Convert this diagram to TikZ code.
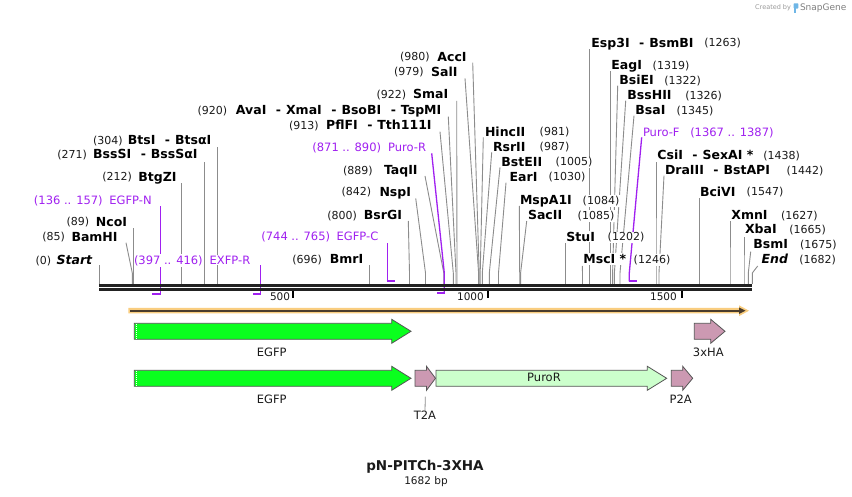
\documentclass[tikz,border=0pt]{standalone}
\usepackage{fontspec}
\setmainfont{DejaVu Sans}
\definecolor{seqc}{HTML}{222222}
\definecolor{sitec}{HTML}{8C8C8C}
\definecolor{primc}{HTML}{A020F0}
\definecolor{gfpc}{HTML}{0AFF1E}
\definecolor{pinkc}{HTML}{CC99B2}
\definecolor{puroc}{HTML}{CCFFCC}
\definecolor{outlc}{HTML}{555555}
\definecolor{orngc}{HTML}{F9CD7F}
\definecolor{brwnc}{HTML}{4A3C2C}
\definecolor{txtc}{HTML}{1A1A1A}
\definecolor{logoc}{HTML}{6FB6E6}
\newcommand\fnumf{\fontsize{11}{13}\selectfont}
\newcommand\fnamef{\fontsize{12.5}{14}\selectfont\bfseries}
\newcommand\fprimf{\fontsize{11.5}{13}\selectfont}
\newcommand\ffeatf{\fontsize{11.5}{13}\selectfont}
\newcommand\dsh{\hspace{9.5pt}-\hspace{5pt}}
\newcommand\LL[6]{%
  \node[numlab,anchor=base west] (#1n) at (#4,#6+4.2) {#2};
  \node[namelab,anchor=base east] (#1) at (#5,#6+4.4) {#3};}
\newcommand\RL[6]{%
  \node[namelab,anchor=base west] (#1) at (#4,#6+4.4) {#2};
  \node[numlab,anchor=base east] (#1n) at (#5,#6+4.2) {#3};}
\newcommand\PL[6]{%
  \node[primlab,anchor=base west] (#1n) at (#4,#6+4.2) {#2};
  \node[primlab,anchor=base east] (#1) at (#5,#6+4.2) {#3};}
\newcommand\PR[6]{%
  \node[primlab,anchor=base west] (#1) at (#4,#6+4.2) {#2};
  \node[primlab,anchor=base east] (#1n) at (#5,#6+4.2) {#3};}
\newcommand\site[3]{\draw[siteline] (#1,284) -- (#1,273) -- (#2,#3);}
\newcommand\featarrow[5]{\draw[featbox,fill=#5] (#1,#4-8) -- (#2,#4-8) -- (#2,#4-12) -- (#3,#4) -- (#2,#4+12) -- (#2,#4+8) -- (#1,#4+8) -- cycle;}
\begin{document}
\begin{tikzpicture}[x=1pt,y=-1pt,
  siteline/.style={draw=sitec,line width=0.9pt},
  primline/.style={draw=primc,line width=1.3pt},
  primbar/.style={draw=primc,line width=1.8pt},
  numlab/.style={font=\fnumf,text=txtc,fill=white,inner xsep=0.5pt,inner ysep=1pt},
  namelab/.style={font=\fnamef,text=black,fill=white,inner xsep=0.5pt,inner ysep=1pt},
  primlab/.style={font=\fprimf,text=primc,fill=white,inner xsep=0.5pt,inner ysep=1pt},
  featbox/.style={draw=outlc,line width=0.8pt,line join=miter},
  featlab/.style={font=\ffeatf,text=txtc,inner sep=0pt},
  ticklab/.style={font=\fontsize{10.5}{12}\selectfont,text=txtc,inner sep=0pt},
  seqline/.style={draw=seqc,line width=2.7pt},
  tickmark/.style={draw=black,line width=2pt}]
\fill[white] (0,0) rectangle (852,497);
\useasboundingbox (0,0) rectangle (852,497);

% ---------- site leader lines ----------
\site{99.3}{99.3}{265}
\site{132.3}{126}{242.7}
\site{133.6}{133.6}{228.3}
\site{181.7}{181.7}{182.7}
\site{204.4}{204.4}{161.7}
\site{217.3}{217.3}{146.7}
\site{369.4}{369.4}{265}
\site{409.5}{408.3}{221}
\site{425.5}{415.7}{198.3}
\site{443.8}{425}{176}
\site{453.3}{440}{131.7}
\site{456}{448.3}{116.7}
\site{457}{456.7}{101}
\site{478.6}{465}{78.3}
\site{479.2}{472.7}{62.7}
\site{480.2}{483.3}{137.3}
\site{482.3}{491.7}{152.3}
\site{489.3}{500}{167.3}
\site{498.5}{506}{182.7}
\site{519.7}{519.3}{206}
\site{520.6}{526.7}{221}
\site{565.7}{565.7}{243.3}
\site{582.5}{582.3}{266}
\site{589.3}{589.3}{49.3}
\site{610.7}{610.7}{71}
\site{612.6}{617.7}{85.7}
\site{614.4}{625.7}{100.7}
\site{620}{634}{115.7}
\site{656}{656}{161.7}
\site{659}{664}{175.7}
\site{699.3}{699.3}{198.3}
\site{730}{730}{221}
\site{744}{744}{236.7}
\site{748.3}{750.7}{251.7}
\site{752.3}{757.7}{266}

% ---------- primers ----------
\draw[primbar] (152.3,293.7) -- (161,293.7);
\draw[primline] (160.3,294.5) -- (160.3,206);
\draw[primbar] (253.3,293.7) -- (261.3,293.7);
\draw[primline] (260.7,294.5) -- (260.7,265);
\draw[primbar] (386.6,280.7) -- (395,280.7);
\draw[primline] (387.3,281.5) -- (387.3,243.3);
\draw[primbar] (437.3,293.3) -- (445,293.3);
\draw[primline] (444.3,294) -- (444.3,273) -- (431.7,153.3);
\draw[primbar] (628.6,280.7) -- (636.5,280.7);
\draw[primline] (629.3,281.5) -- (629.3,273) -- (641.7,137.3);

% ---------- labels, left side ----------
\LL{lstart}{(0)}{\textit{Start}}{35}{93.3}{260}
\LL{lbamhi}{(85)}{BamHI}{41.7}{118.3}{236.7}
\LL{lncoi}{(89)}{NcoI}{66}{127.7}{221.7}
\PL{legfpn}{(136 .. 157)}{EGFP-N}{33.3}{152.3}{200}
\LL{lbtgzi}{(212)}{BtgZI}{101.7}{177.3}{176.7}
\LL{lbsssi}{(271)}{BssSI\dsh BssSαI}{56.7}{198.3}{154.3}
\LL{lbtsi}{(304)}{BtsI\dsh BtsαI}{92.3}{212}{140}
\PL{lexfpr}{(397 .. 416)}{EXFP-R}{133.3}{251}{260}
\LL{lbmri}{(696)}{BmrI}{291.7}{364}{259.3}
\PL{legfpc}{(744 .. 765)}{EGFP-C}{260.7}{379}{236.7}
\LL{lbsrgi}{(800)}{BsrGI}{326.7}{402.7}{215}
\LL{lnspi}{(842)}{NspI}{341}{411.7}{191.7}
\LL{ltaqii}{(889)}{TaqII}{342.3}{418.3}{170}
\PL{lpuror}{(871 .. 890)}{Puro-R}{311.7}{426.7}{147.3}
\LL{lpflfi}{(913)}{PflFI\dsh Tth111I}{288.3}{432.3}{125}
\LL{lavai}{(920)}{AvaI\dsh XmaI\dsh BsoBI\dsh TspMI}{197}{442}{110}
\LL{lsmai}{(922)}{SmaI}{376}{449}{94.3}
\LL{lsali}{(979)}{SalI}{393.3}{458.3}{71.7}
\LL{lacci}{(980)}{AccI}{399.3}{467.3}{56.7}

% ---------- labels, right side ----------
\RL{lhincii}{HincII}{(981)}{484.3}{570}{131.7}
\RL{lrsrii}{RsrII}{(987)}{492.3}{570}{146.7}
\RL{lbsteii}{BstEII}{(1005)}{500.7}{593}{161.7}
\RL{leari}{EarI}{(1030)}{509}{586}{176.7}
\RL{lmspa}{MspA1I}{(1084)}{519.3}{620}{200}
\RL{lsacii}{SacII}{(1085)}{527.3}{615}{215}
\RL{lstui}{StuI}{(1202)}{565.7}{645}{236.7}
\RL{lmsci}{MscI *}{(1246)}{582.7}{671}{259.3}
\RL{lesp}{Esp3I\dsh BsmBI}{(1263)}{590.7}{741.7}{42.7}
\RL{leagi}{EagI}{(1319)}{610.7}{690}{65}
\RL{lbsiei}{BsiEI}{(1322)}{618.7}{701.7}{80}
\RL{lbsshii}{BssHII}{(1326)}{626.7}{722.7}{95}
\RL{lbsai}{BsaI}{(1345)}{634.7}{714}{110}
\PR{lpurof}{Puro-F}{(1367 .. 1387)}{642.3}{774.3}{132}
\RL{lcsii}{CsiI\dsh SexAI *}{(1438)}{656.7}{800.7}{155}
\RL{ldraiii}{DraIII\dsh BstAPI}{(1442)}{664.3}{824}{170}
\RL{lbcivi}{BciVI}{(1547)}{699.3}{784}{191.7}
\RL{lxmni}{XmnI}{(1627)}{730.7}{818.3}{215}
\RL{lxbai}{XbaI}{(1665)}{744.3}{826.7}{229.3}
\RL{lbsmi}{BsmI}{(1675)}{752.7}{837.3}{244.3}
\RL{lend}{\textit{End}}{(1682)}{761}{836.7}{259}

% ---------- sequence ----------
\draw[seqline] (99.3,285.65) -- (752.3,285.65);
\draw[seqline] (99.3,289.65) -- (752.3,289.65);
\draw[tickmark] (293.4,291) -- (293.4,298);
\draw[tickmark] (487.8,291) -- (487.8,298);
\draw[tickmark] (681.6,291) -- (681.6,298);
\node[ticklab,anchor=base east] (t500) at (290.3,300.8) {500};
\node[ticklab,anchor=base east] (t1000) at (484,300.8) {1000};
\node[ticklab,anchor=base east] (t1500) at (677,300.8) {1500};

% ---------- orange full-length feature ----------
\fill[orngc] (128.3,307.9) -- (739,307.9) -- (739,305.3) -- (749,310.7) -- (739,316.1) -- (739,313.5) -- (128.3,313.5) -- cycle;
\draw[brwnc,line width=1.8pt] (130,310.7) -- (740,310.7);
\fill[brwnc] (739,307.4) -- (745.5,310.7) -- (739,314) -- cycle;

% ---------- features row 1 ----------
\featarrow{134.3}{391.7}{411}{331.3}{gfpc}
\draw[white,line width=1.1pt,dash pattern=on 1pt off 1pt] (136.8,323.8) -- (136.8,338.8);
\node[featlab] (fegfp1) at (271.7,352.3) {EGFP};
\featarrow{694.3}{710.7}{725}{331.3}{pinkc}
\node[featlab] (fha) at (708.3,352.7) {3xHA};

% ---------- features row 2 ----------
\featarrow{134.3}{391.7}{411}{378.3}{gfpc}
\draw[white,line width=1.1pt,dash pattern=on 1pt off 1pt] (136.8,370.8) -- (136.8,385.8);
\node[featlab] (fegfp2) at (271.7,399.3) {EGFP};
\featarrow{415}{426.5}{435.5}{378.3}{pinkc}
\featarrow{436}{647.3}{666.7}{378.3}{puroc}
\node[featlab] (fpuro) at (544,377.7) {PuroR};
\featarrow{671.3}{682.7}{692.7}{378.3}{pinkc}
\node[featlab] (fp2a) at (680.7,399.3) {P2A};
\node[featlab] (ft2a) at (425,415.7) {T2A};
\coordinate (t2atop) at (425.3,396.7);
\draw[sitec,line width=0.8pt] (t2atop) -- (ft2a.north);

% ---------- title ----------
\node[font=\fontsize{13.5}{15}\selectfont\bfseries,text=txtc,inner sep=0pt] (title) at (425,466.7) {pN-PITCh-3XHA};
\node[font=\fontsize{10.5}{12}\selectfont,text=txtc,inner sep=0pt] (bp) at (426,481.7) {1682 bp};

% ---------- logo ----------
\node[font=\fontsize{6.5}{7}\selectfont,text=black!40,inner sep=0pt,anchor=west] (cby) at (755,8) {Created by};
\fill[logoc,rounded corners=0.8pt] (793.6,3.3) rectangle (798.4,8.6);
\fill[logoc] (793.6,8) rectangle (795.6,12.8);
\node[font=\fontsize{9}{10}\selectfont,text=black!50,inner sep=0pt,anchor=west] (sg) at (799.8,8) {SnapGene};
\end{tikzpicture}
\end{document}
